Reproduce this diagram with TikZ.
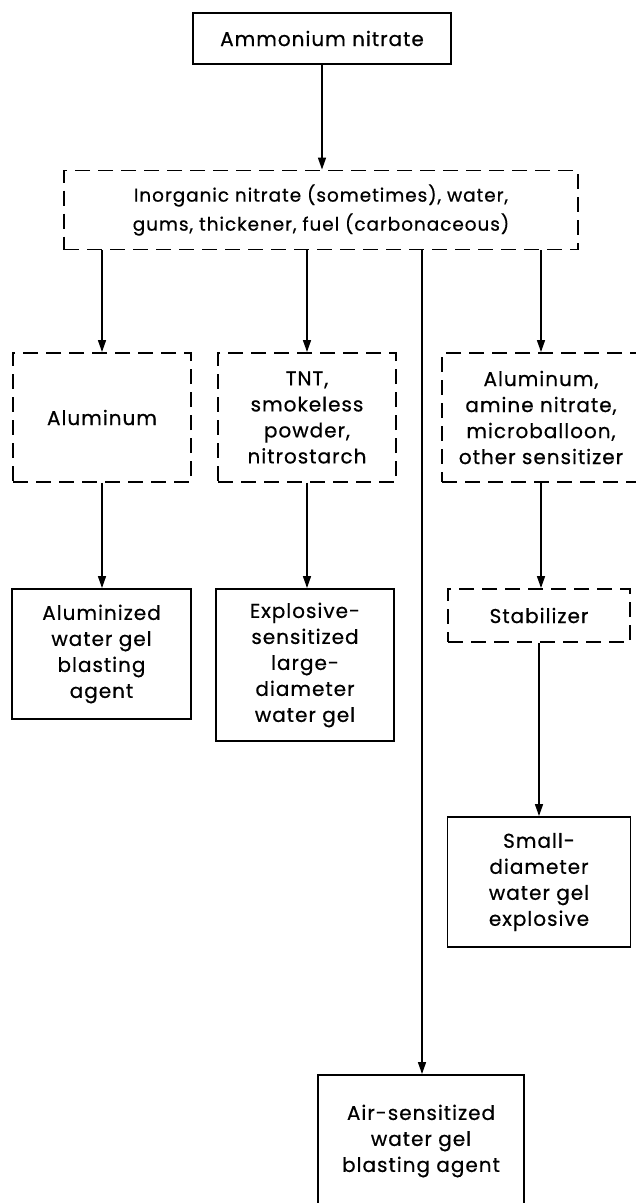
\documentclass[tikz,border=0pt]{standalone}
\usepackage{fontspec}
\setmainfont{Poppins}
\newfontfamily\lab{Poppins}[LetterSpace=5,FakeBold=0.6]
\usetikzlibrary{arrows.meta}
\begin{document}
\begin{tikzpicture}[x=1pt,y=-1pt,
  box/.style={draw=black,line width=1.9pt,rectangle,inner sep=0pt,align=center,
    font=\lab\fontsize{20}{26}\selectfont},
  dbox/.style={box,dash pattern=on 15pt off 8pt},
  arr/.style={draw=black,line width=1.5pt,-{Triangle[width=8pt,length=12pt]}}]
\useasboundingbox (0,0) rectangle (636,1203);
\clip (0,0) rectangle (636,1203);
\fill[white] (0,0) rectangle (636,1203);
\node[box,minimum width=258pt,minimum height=51pt] (top) at (322,38.5) {Ammonium nitrate};
\node[dbox,minimum width=514pt,minimum height=79pt,font=\lab\fontsize{18.5}{29}\selectfont] (inorg) at (321,210)
  {Inorganic nitrate (sometimes), water,\\ gums, thickener, fuel (carbonaceous)};
\node[dbox,minimum width=178pt,minimum height=129pt] (alum) at (102,417.5) {Aluminum};
\node[dbox,minimum width=178pt,minimum height=129pt] (tnt) at (307,417.5) {TNT,\\ smokeless\\ powder,\\ nitrostarch};
\node[dbox,minimum width=198pt,minimum height=129pt] (sens) at (541,417.5) {Aluminum,\\ amine nitrate,\\ microballoon,\\ other sensitizer};
\node[box,minimum width=179pt,minimum height=130pt] (alzd) at (101.5,654) {Aluminized\\ water gel\\ blasting\\ agent};
\node[box,minimum width=178pt,minimum height=152pt] (expl) at (305,665) {Explosive-\\ sensitized\\ large-\\ diameter\\ water gel};
\node[dbox,minimum width=182pt,minimum height=53pt] (stab) at (539,615.5) {Stabilizer};
\node[box,minimum width=183pt,minimum height=130pt] (small) at (539,882) {Small-\\ diameter\\ water gel\\ explosive};
\node[box,minimum width=206pt,minimum height=132pt] (air) at (421,1141) {Air-sensitized\\ water gel\\ blasting agent};
\draw[arr] (top.south) -- (top.south |- inorg.north);
\draw[arr] (alum.north |- inorg.south) -- (alum.north);
\draw[arr] (tnt.north |- inorg.south) -- (tnt.north);
\draw[arr] (sens.north |- inorg.south) -- (sens.north);
\draw[arr] ([xshift=1pt]air.north |- inorg.south) -- ([xshift=1pt]air.north);
\draw[arr] (alum.south) -- (alum.south |- alzd.north);
\draw[arr] (tnt.south) -- (tnt.south |- expl.north);
\draw[arr] (sens.south) -- (sens.south |- stab.north);
\draw[arr] (stab.south) -- (stab.south |- small.north);
\end{tikzpicture}
\end{document}
